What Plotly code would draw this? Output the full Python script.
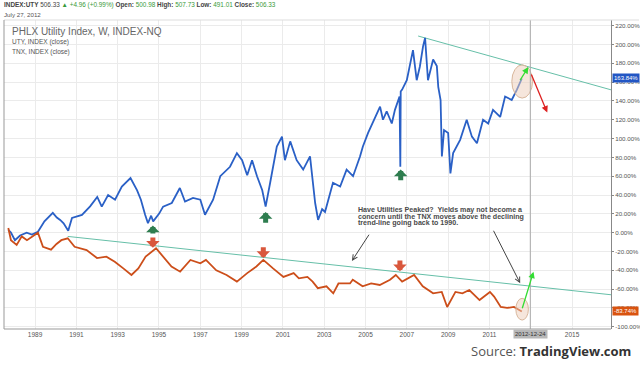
import plotly.graph_objects as go

# ---------------- data ----------------
uty_dates = ["1987-09-15", "1987-11-01", "1988-01-10", "1988-04-10", "1988-08-05", "1988-11-05",
             "1989-02-20", "1989-06-15", "1989-11-10", "1990-01-20", "1990-03-20", "1990-05-20",
             "1990-08-10", "1990-10-15", "1991-04-10", "1991-09-01", "1992-01-05", "1992-03-25",
             "1992-07-15", "1992-11-15", "1993-03-15", "1993-08-15", "1993-12-10", "1994-02-15",
             "1994-05-01", "1994-06-20", "1994-08-15", "1994-09-20", "1995-01-01", "1995-03-15",
             "1995-08-15", "1996-01-05", "1996-04-05", "1996-08-25", "1997-01-01", "1997-03-25",
             "1997-08-15", "1997-12-20", "1998-06-10", "1998-10-10", "1999-01-10", "1999-04-10",
             "1999-07-05", "1999-10-01", "2000-01-01", "2000-03-01", "2000-05-20", "2000-09-15",
             "2000-12-15", "2001-02-05", "2001-05-10", "2001-09-01", "2001-12-25", "2002-04-25",
             "2002-07-25", "2002-09-15", "2002-11-25", "2003-01-15", "2003-06-05", "2003-10-10",
             "2004-02-01", "2004-05-25", "2004-09-25", "2004-11-15", "2005-02-15", "2005-06-15",
             "2005-09-15", "2005-11-05", "2006-01-10", "2006-04-10", "2006-06-05", "2006-08-25",
             "2006-09-08", "2006-09-15", "2006-10-10", "2007-01-01", "2007-03-25", "2007-04-20",
             "2007-06-25", "2007-08-20", "2007-10-15", "2007-11-20", "2008-01-10", "2008-04-10",
             "2008-06-15", "2008-07-10", "2008-08-20", "2008-09-12", "2008-10-20", "2009-01-01",
             "2009-02-10", "2009-03-30", "2009-08-01", "2009-11-25", "2010-02-25", "2010-05-25",
             "2010-09-10", "2010-12-10", "2011-03-05", "2011-07-10", "2011-10-05", "2012-01-30",
             "2012-05-01", "2012-07-27"]
uty_pct = [3, 0, -8, -3, 0, -2,
           1, 12, 21, 16, 13.5, 10,
           2, 15.6, 18.8, 28, 38, 27.7,
           40, 35, 49, 58, 45, 35,
           19, 10, 18, 12, 20, 27.7,
           31.5, 47.5, 33, 37, 35, 19,
           35, 60, 70, 84.5, 77, 61,
           77, 60, 45, 27.7, 53, 91.5,
           102, 77, 97, 77, 67, 81,
           31.5, 13.5, 25, 22, 53, 49,
           67, 60, 81, 91.5, 106, 123,
           134, 120, 129, 116, 130.5, 144.7,
           70, 150, 152, 162, 184, 194,
           162, 176.6, 198, 207, 162, 184,
           177, 155, 141, 81, 109, 106,
           63, 84.5, 98.6, 120, 102, 95,
           120, 116, 130.5, 123, 144.7, 141,
           152, 163.84]

tnx_dates = ["1987-09-15", "1987-11-01", "1988-02-10", "1988-05-10", "1988-08-10", "1988-11-10",
             "1989-02-20", "1989-05-20", "1989-10-10", "1990-01-15", "1990-04-10", "1990-08-01",
             "1990-12-01", "1991-07-01", "1992-01-01", "1992-06-15", "1992-11-10", "1993-04-10",
             "1993-09-01", "1994-01-01", "1994-05-10", "1994-11-10", "1995-03-10", "1995-08-10",
             "1996-01-10", "1996-07-10", "1997-01-01", "1997-04-10", "1997-10-10", "1998-04-10",
             "1998-10-10", "1999-04-10", "1999-09-20", "2000-01-20", "2000-07-10", "2001-01-10",
             "2001-07-10", "2001-10-10", "2002-03-10", "2002-06-10", "2002-09-10", "2003-02-10",
             "2003-06-10", "2003-09-10", "2004-04-01", "2004-05-20", "2004-11-10", "2005-04-10",
             "2005-09-10", "2006-03-10", "2006-06-20", "2006-10-10", "2007-05-10", "2007-10-10",
             "2008-04-10", "2008-09-10", "2008-12-15", "2009-05-10", "2009-09-10", "2010-01-10",
             "2010-07-10", "2011-01-10", "2011-03-25", "2011-07-20", "2011-11-10", "2012-03-10",
             "2012-07-27"]
tnx_pct = [5, -8, -13, -4, -8, -4,
           0, -15, -18, -12, -8, -6,
           -15, -18.5, -27, -25.5, -31, -38,
           -45, -38, -25.5, -16.6, -25.5, -36,
           -41.5, -29, -32.6, -29, -40, -45,
           -52, -43, -36, -29, -38, -47,
           -43, -48.5, -47, -52, -59, -57,
           -64.5, -54, -54, -50, -57, -54,
           -55.6, -50, -45, -52, -45, -57,
           -64.5, -63, -79, -63, -64.5, -61,
           -71.6, -63, -68, -79, -80, -79,
           -83.74]

# trend lines (start/end points)
uty_trend_dates = ["2007-07-20", "2016-11-20"]
uty_trend_pct = [209, 151.8]
tnx_trend_dates = ["1990-08-01", "2016-11-20"]
tnx_trend_pct = [-4, -66]

y_ticks = list(range(-100, 221, 20))
y_tick_text = [f"{v:.2f}%" for v in y_ticks]
x_tick_years = list(range(1989, 2016, 2))
x_tick_text = ["" if y == 2013 else str(y) for y in x_tick_years]

# annotation markers (UTY buy arrows, TNX peaks)
green_up = [("1994-09-15", -2.5, 7.5), ("2000-03-01", 9, 22), ("2006-09-15", 54, 67)]
red_down = [("1994-09-15", -3.5, -16), ("2000-01-20", -14, -27), ("2006-09-01", -28, -41)]

BLUE = "#2a60c6"
ORANGE = "#cc4e1a"

# ---------------- helpers for pixel -> paper placement of text ----------------
L, R, T, B = 4, 611, 20, 329
def pxx(x):
    return (x - L) / (R - L)
def pxy(y):
    return (B - y) / (B - T)

fig = go.Figure()

fig.add_trace(go.Scatter(x=tnx_trend_dates, y=tnx_trend_pct, mode="lines",
                         line=dict(color="#66bfa8", width=1), hoverinfo="skip"))
fig.add_trace(go.Scatter(x=uty_trend_dates, y=uty_trend_pct, mode="lines",
                         line=dict(color="#66bfa8", width=1), hoverinfo="skip"))
fig.add_trace(go.Scatter(x=uty_dates, y=uty_pct, mode="lines", name="UTY",
                         line=dict(color=BLUE, width=1.8)))
fig.add_trace(go.Scatter(x=tnx_dates, y=tnx_pct, mode="lines", name="TNX",
                         line=dict(color=ORANGE, width=1.8)))

shapes = []
# ellipses
shapes.append(dict(type="circle", xref="x", yref="y", x0="2012-02-01", x1="2013-02-01",
                   y0=143, y1=178.4, fillcolor="rgba(238,205,185,0.5)",
                   line=dict(color="#d9b79c", width=1)))
shapes.append(dict(type="circle", xref="x", yref="y", x0="2012-04-12", x1="2012-11-20",
                   y0=-92.9, y1=-69.8, fillcolor="rgba(238,205,185,0.5)",
                   line=dict(color="#d9b79c", width=1)))
# crosshair
shapes.append(dict(type="line", xref="x", yref="paper", x0="2012-12-24", x1="2012-12-24",
                   y0=0, y1=1, line=dict(color="#aaaaaa", width=1)))
# frame
shapes.append(dict(type="line", xref="paper", yref="paper", x0=0, x1=pxx(639), y0=1, y1=1,
                   line=dict(color="#dddddd", width=1)))
shapes.append(dict(type="line", xref="paper", yref="paper", x0=0, x1=0, y0=0, y1=1,
                   line=dict(color="#999999", width=1)))
shapes.append(dict(type="line", xref="paper", yref="paper", x0=0, x1=1, y0=0, y1=0,
                   line=dict(color="#999999", width=1)))

ann = []
FONT = "Liberation Sans"
# header
ann.append(dict(xref="paper", yref="paper", x=pxx(2), y=pxy(5), xanchor="left", yanchor="middle",
                showarrow=False, font=dict(family=FONT, size=6.4, color="#444"),
                text="<b>INDEX:UTY</b> 506.33 <span style='color:#3a9a3a'>▲ +4.96 (+0.99%)</span> "
                     "<b>Open:</b> <span style='color:#3a9a3a'>500.98</span> "
                     "<b>High:</b> <span style='color:#3a9a3a'>507.73</span> "
                     "<b>Low:</b> <span style='color:#3a9a3a'>491.01</span> "
                     "<b>Close:</b> <span style='color:#3a9a3a'>506.33</span>"))
ann.append(dict(xref="paper", yref="paper", x=pxx(2), y=pxy(14), xanchor="left", yanchor="middle",
                showarrow=False, font=dict(family=FONT, size=6.2, color="#555"),
                text="July 27, 2012"))
ann.append(dict(xref="paper", yref="paper", x=pxx(10), y=pxy(31), xanchor="left", yanchor="middle",
                showarrow=False, font=dict(family=FONT, size=10, color="#666"),
                text="PHLX Utility Index, W, INDEX-NQ"))
ann.append(dict(xref="paper", yref="paper", x=pxx(10), y=pxy(42), xanchor="left", yanchor="middle",
                showarrow=False, font=dict(family=FONT, size=6.5, color="#555"),
                text="UTY, INDEX (close)"))
ann.append(dict(xref="paper", yref="paper", x=pxx(10), y=pxy(52), xanchor="left", yanchor="middle",
                showarrow=False, font=dict(family=FONT, size=6.5, color="#555"),
                text="TNX, INDEX (close)"))
# comment text
for i, line in enumerate(["Have Utilities Peaked?  Yields may not become a",
                          "concern until the TNX moves above the declining",
                          "trend-line going back to 1990."]):
    ann.append(dict(xref="paper", yref="paper", x=pxx(356), y=pxy(210.5 + 6.3 * i), xanchor="left",
                    yanchor="middle", showarrow=False,
                    font=dict(family=FONT, size=7.1, color="#4a4a4a"), text=f"<b>{line}</b>"))
# source
ann.append(dict(xref="paper", yref="paper", x=pxx(633), y=pxy(351), xanchor="right", yanchor="middle",
                showarrow=False, font=dict(family="Open Sans", size=13, color="#555"),
                text="Source: <b><span style='color:#333'>TradingView.com</span></b>"))
# price badges
ann.append(dict(xref="paper", yref="y", x=pxx(612), y=uty_pct[-1], xanchor="left", yanchor="middle",
                showarrow=False, bgcolor="#2256c4", borderpad=1,
                font=dict(family=FONT, size=6, color="white"), text=f"{uty_pct[-1]:.2f}%"))
ann.append(dict(xref="paper", yref="y", x=pxx(612), y=tnx_pct[-1], xanchor="left", yanchor="middle",
                showarrow=False, bgcolor="#d9530f", borderpad=1,
                font=dict(family=FONT, size=6, color="white"), text=f"{tnx_pct[-1]:.2f}%"))
# crosshair date label
ann.append(dict(xref="x", yref="paper", x="2012-12-24", y=pxy(334), xanchor="center", yanchor="middle",
                showarrow=False, bgcolor="#b8b8b8", borderpad=1,
                font=dict(family=FONT, size=6, color="#333"), text="2012-12-24"))

# pointer arrows
def arrow(x0, y0, x1, y1, color, width, head, size):
    return dict(xref="x", yref="y", axref="x", ayref="y", x=x1, y=y1, ax=x0, ay=y0, text="",
                showarrow=True, arrowcolor=color, arrowwidth=width, arrowhead=head, arrowsize=size)

ann.append(arrow("2005-03-20", -0.6, "2004-05-05", -30, "#444", 1, 5, 1))
ann.append(arrow("2011-03-01", 3.6, "2012-06-28", -53.8, "#444", 1, 5, 1))
ann.append(arrow("2012-06-10", 160.6, "2012-11-20", 176, "#33dd33", 1.3, 2, 1))
ann.append(arrow("2013-01-01", 169.6, "2013-10-20", 127.7, "#dd2222", 1.3, 2, 1))
ann.append(arrow("2012-07-27", -82, "2013-02-18", -41.5, "#33dd33", 1.3, 2, 1))
for d, y0, y1 in green_up:
    ann.append(arrow(d, y0, d, y1, "#2e7d4f", 5, 1, 0.45))
for d, y0, y1 in red_down:
    ann.append(arrow(d, y0, d, y1, "#d9573c", 5, 1, 0.45))

fig.update_layout(
    width=640, height=366,
    margin=dict(l=L, r=640 - R, t=T, b=366 - B, autoexpand=False),
    paper_bgcolor="white", plot_bgcolor="white",
    showlegend=False,
    shapes=shapes, annotations=ann,
    xaxis=dict(type="date", range=["1987-07-01", "2016-11-20"], automargin=False,
               tickvals=[f"{y}-01-01" for y in x_tick_years], ticktext=x_tick_text,
               showgrid=True, gridcolor="#ebebeb", gridwidth=1, zeroline=False,
               showline=False, ticks="", tickfont=dict(family=FONT, size=6.5, color="#555")),
    yaxis=dict(side="right", range=[-102.4, 226], tickvals=y_ticks, ticktext=y_tick_text,
               automargin=False,
               showgrid=True, gridcolor="#ebebeb", gridwidth=1, zeroline=False,
               showline=True, linecolor="#888", linewidth=1, ticks="outside", ticklen=2,
               tickcolor="#888", tickfont=dict(family=FONT, size=6.2, color="#555")),
)

fig.write_html("out.html", config=dict(displayModeBar=False),
               post_script="document.body.style.margin='0px';document.body.style.overflow='hidden';")
